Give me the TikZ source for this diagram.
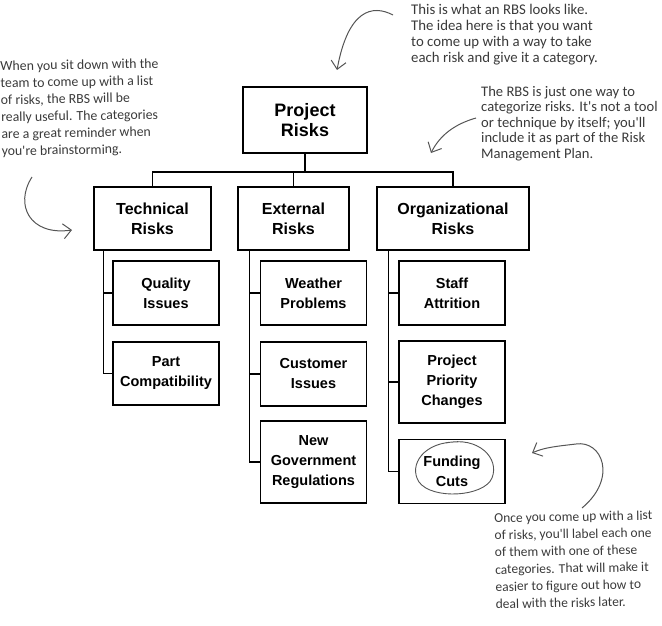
\documentclass[tikz,border=0pt]{standalone}
\usepackage{fontspec}
\setmainfont{Liberation Sans}
\newfontfamily\handfont{Carlito}
\usetikzlibrary{arrows.meta}
\definecolor{ink}{HTML}{3A3A3A}
\definecolor{pen}{HTML}{555555}
\begin{document}
\begin{tikzpicture}[x=1pt,y=-1pt,
  box/.style={draw, line width=1.2pt, align=center, inner sep=0pt},
  topbox/.style={box, line width=2.6pt, font=\bfseries\fontsize{18}{20}\selectfont},
  catbox/.style={box, minimum height=63pt, font=\bfseries\fontsize{16}{20}\selectfont},
  leaf/.style={box, minimum width=106pt, font=\bfseries\fontsize{14.5}{20}\selectfont},
  link/.style={line width=1.5pt},
  note/.style={align=left, text=ink, inner sep=0pt},
  handarrow/.style={pen, line width=1pt, -{Straight Barb[length=8pt,width=15pt]}}
]
\useasboundingbox (0,0) rectangle (662,626);

% boxes
\node[topbox, minimum width=124pt, minimum height=66pt] (proj) at (305,120) {Project\\Risks};
\node[catbox, minimum width=117pt] (tech) at (152.5,218.5) {Technical\\Risks};
\node[catbox, minimum width=111pt] (ext) at (293.5,218.5) {External\\Risks};
\node[catbox, minimum width=152pt] (org) at (453,218.5) {Organizational\\Risks};

\node[leaf, minimum height=64pt] (qual) at (166,293) {Quality\\Issues};
\node[leaf, minimum height=63pt] (part) at (166,373.5) {Part\\Compatibility};

\node[leaf, minimum height=64pt] (weat) at (313.5,293) {Weather\\Problems};
\node[leaf, minimum height=64pt] (cust) at (313.5,374) {Customer\\Issues};
\node[leaf, minimum height=82pt] (gov) at (313.5,462) {New\\Government\\Regulations};

\node[leaf, minimum height=64pt] (staff) at (452,293) {Staff\\Attrition};
\node[leaf, minimum height=82pt] (prio) at (452,382) {Project\\Priority\\Changes};
\node[leaf, minimum height=64pt] (fund) at (452,471.5) {Funding\\Cuts};

% top-level connectors
\coordinate (bar) at (305,172);
\draw[link] (proj.south) -- (bar);
\draw[link] (tech.north) |- (bar) -| (org.north);
\draw[link] (ext.north) -- (ext.north |- bar);

% spines
\coordinate (ts) at ([xshift=10pt]tech.south west);
\draw[link] (ts) |- (part.west);
\draw[link] (ts |- qual.west) -- (qual.west);

\coordinate (es) at ([xshift=12pt]ext.south west);
\draw[link] (es) |- (gov.west);
\draw[link] (es |- weat.west) -- (weat.west);
\draw[link] (es |- cust.west) -- (cust.west);

\coordinate (os) at ([xshift=12pt]org.south west);
\draw[link] (os) |- (fund.west);
\draw[link] (os |- staff.west) -- (staff.west);
\draw[link] (os |- prio.west) -- (prio.west);

% hand-drawn circle round Funding Cuts
\draw[pen, line width=0.9pt] (446,443) .. controls (478,436) and (500,458) .. (492,478)
  .. controls (484,497) and (432,500) .. (419,482)
  .. controls (408,465) and (424,441) .. (458,442);

% notes
\node[note, anchor=north west, font=\handfont\fontsize{14.8}{16}\selectfont] (n1) at (411,4) {This is what an RBS looks like.\\The idea here is that you want\\to come up with a way to take\\each risk and give it a category.};
\node[note, anchor=north west, rotate=1, font=\handfont\fontsize{13.8}{17}\selectfont] (n2) at (0,61) {When you sit down with the\\team to come up with a list\\of risks, the RBS will be\\really useful. The categories\\are a great reminder when\\you're brainstorming.};
\node[note, anchor=north west, font=\handfont\fontsize{14.6}{15.5}\selectfont] (n3) at (481,86) {The RBS is just one way to\\categorize risks. It's not a tool\\or technique by itself; you'll\\include it as part of the Risk\\Management Plan.};
\node[note, anchor=north west, rotate=1, font=\handfont\fontsize{13.5}{17.2}\selectfont] (n4) at (494,513) {Once you come up with a list\\of risks, you'll label each one\\of them with one of these\\categories. That will make it\\easier to figure out how to\\deal with the risks later.};

% arrows
\draw[handarrow] (393,15) .. controls (372,4) and (348,10) .. (337,70);
\draw[handarrow] (476,118) .. controls (455,124) and (440,135) .. (431,153);
\draw[handarrow] (32,177) .. controls (14,205) and (30,236) .. (72,230);
\draw[handarrow] (582,508) .. controls (618,478) and (602,440) .. (576,444)
  .. controls (560,446) and (545,447) .. (532,453);
\end{tikzpicture}
\end{document}
